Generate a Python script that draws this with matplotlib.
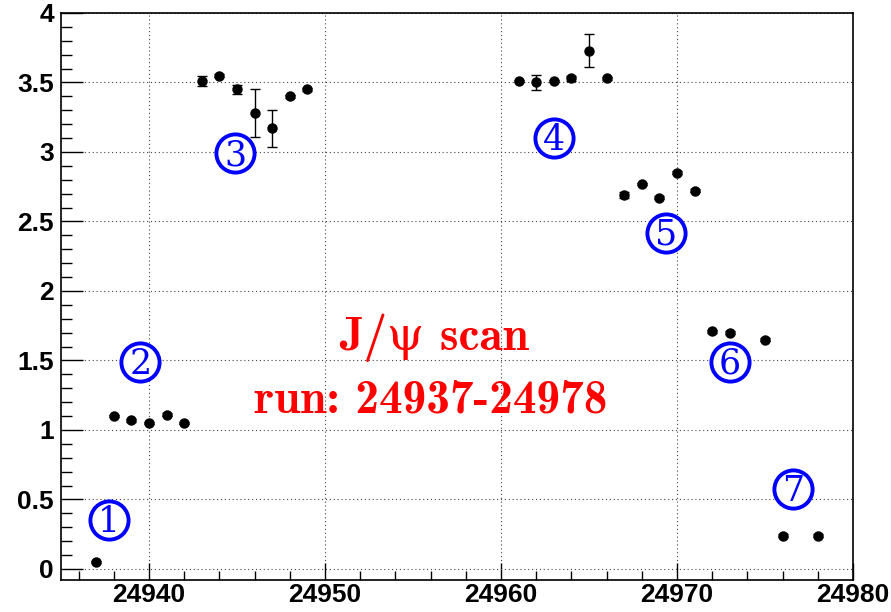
import matplotlib.pyplot as plt
from matplotlib.ticker import MultipleLocator, FuncFormatter

run = [24937,
       24938, 24939, 24940, 24941, 24942,
       24943, 24944, 24945, 24946, 24947, 24948, 24949,
       24961, 24962, 24963, 24964, 24965, 24966,
       24967, 24968, 24969, 24970, 24971,
       24972, 24973, 24975,
       24976, 24978]
value = [0.05,
         1.10, 1.07, 1.05, 1.11, 1.05,
         3.51, 3.55, 3.45, 3.28, 3.17, 3.40, 3.45,
         3.51, 3.50, 3.51, 3.53, 3.73, 3.53,
         2.69, 2.77, 2.67, 2.85, 2.72,
         1.71, 1.70, 1.65,
         0.24, 0.24]
value_err = [0.01,
             0.01, 0.01, 0.01, 0.01, 0.01,
             0.035, 0.01, 0.03, 0.175, 0.135, 0.01, 0.01,
             0.01, 0.055, 0.01, 0.02, 0.12, 0.01,
             0.02, 0.01, 0.01, 0.01, 0.01,
             0.01, 0.01, 0.01,
             0.01, 0.01]

# group markers (circled numbers) and where they sit
group_names = ['1', '2', '3', '4', '5', '6', '7']
group_x = [24937.7, 24939.5, 24944.9, 24963.0, 24969.4, 24973.0, 24976.6]
group_y = [0.35, 1.49, 2.99, 3.10, 2.42, 1.49, 0.575]

fig = plt.figure(figsize=(8.91, 6.12), dpi=100)
ax = fig.add_axes([61 / 891, 1 - 580 / 612, (853 - 61) / 891, (580 - 13) / 612])

ax.errorbar(run, value, yerr=value_err, fmt='o', color='black',
            markersize=6.5, elinewidth=1.0, capsize=3.5, capthick=1.0, zorder=3)

# circled group numbers
for name, gx, gy in zip(group_names, group_x, group_y):
    ax.plot(gx, gy, 'o', markersize=27.5, markerfacecolor='white',
            markeredgecolor='blue', markeredgewidth=2.8, zorder=4)
    ax.text(gx, gy - 0.015, name, ha='center', va='center', color='blue',
            fontsize=25, family='DejaVu Serif', zorder=5)

# title text in the middle
ax.text(24956.2, 1.66, 'J/\u03c8 scan', ha='center', va='center', color='red',
        fontsize=34, family=['cmb10', 'DejaVu Serif'])
ax.text(24956.0, 1.21, 'run: 24937-24978', ha='center', va='center', color='red',
        fontsize=34, family=['cmb10', 'DejaVu Serif'])

ax.set_xlim(24935, 24980)
ax.set_ylim(-0.08, 4.0)

ax.xaxis.set_major_locator(MultipleLocator(10))
ax.xaxis.set_minor_locator(MultipleLocator(2))
ax.yaxis.set_major_locator(MultipleLocator(0.5))
ax.yaxis.set_minor_locator(MultipleLocator(0.1))
ax.yaxis.set_major_formatter(FuncFormatter(lambda v, p: f'{v:g}'))

ax.tick_params(axis='x', which='major', direction='in', length=12, width=1.0, pad=2)
ax.tick_params(axis='x', which='minor', direction='in', length=6.5, width=1.0)
ax.tick_params(axis='y', which='major', direction='in', length=16, width=1.0, pad=5)
ax.tick_params(axis='y', which='minor', direction='in', length=8, width=1.0)

for lab in ax.get_xticklabels() + ax.get_yticklabels():
    lab.set_family(['Liberation Sans Narrow', 'Liberation Sans'])
    lab.set_fontweight('bold')
    lab.set_fontsize(19)

ax.grid(True, which='major', color='#444444', linestyle=(0, (1, 2.5)), linewidth=0.8)
ax.set_axisbelow(True)

for side in ['left', 'bottom', 'top', 'right']:
    ax.spines[side].set_linewidth(1.2)
    ax.spines[side].set_color('black')

fig.savefig('out.png', dpi=100)
